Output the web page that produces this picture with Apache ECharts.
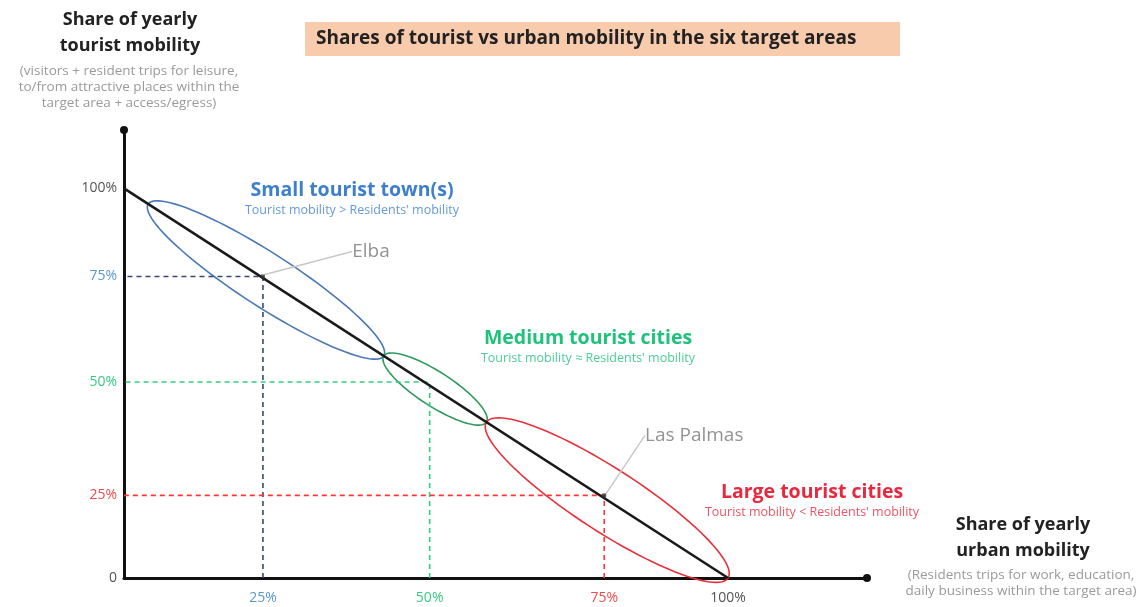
<!DOCTYPE html>
<html>
<head>
<meta charset="utf-8">
<script src="https://cdn.jsdelivr.net/npm/echarts@6/dist/echarts.min.js"></script>
<style>
html,body{margin:0;padding:0;background:#fff;}
#chart{width:1148px;height:607px;}
</style>
</head>
<body>
<div id="chart"></div>
<script>
// ---- data ----
const groupNames = ['Small tourist town(s)', 'Medium tourist cities', 'Large tourist cities'];
const groupSubtitles = ["Tourist mobility > Residents' mobility", "Tourist mobility \u2248 Residents' mobility", "Tourist mobility < Residents' mobility"];
// ellipse ends along the diagonal (urban share %, tourist share %)
const ellipseStartX = [4, 43, 60];
const ellipseStartY = [96, 57, 40];
const ellipseEndX = [43, 60, 100];
const ellipseEndY = [57, 40, 0];
// reference shares (schematic positions)
const refUrban = [23, 50.6, 79.5];
const refTourist = [77.4, 50.3, 21.2];
const refTickLabels = ['25%', '50%', '75%'];
const diagonalX = [0, 100];
const diagonalY = [100, 0];
const examples = ['Elba', 'Las Palmas'];
const exampleGroup = [0, 2];
const xTickValues = [refUrban[0], refUrban[1], refUrban[2], 100];
const xTickLabels = ['25%', '50%', '75%', '100%'];
const yTickValues = [0, refTourist[2], refTourist[1], refTourist[0], 100];
const yTickLabels = ['0', '25%', '50%', '75%', '100%'];

// ---- styles ----
const ellipseColors = ['#4a78b8', '#2e9a5e', '#e8303a'];
const ellipseRatio = [0.19, 0.28, 0.22];
const dashColors = ['#34486e', '#2fd07e', '#ff3434'];
const titleColors = ['#3d7fcc', '#1fc27c', '#e8283c'];
const xTickColors = ['#5b97d0', '#38c985', '#f04b4b', '#555'];
const yTickColors = ['#555', '#f04b4b', '#38c985', '#5b97d0', '#555'];
const FONT = '"Open Sans", Lato, sans-serif';

const chart = echarts.init(document.getElementById('chart'), null, {renderer: 'canvas'});

function richFrom(colors) {
  const r = {};
  colors.forEach((c, i) => { r['c' + i] = {color: c, fontSize: 14, fontFamily: FONT}; });
  return r;
}
function labelFmt(values, labels) {
  return function (v) {
    let best = 0, bd = Infinity;
    values.forEach((t, i) => { const d = Math.abs(t - v); if (d < bd) { bd = d; best = i; } });
    return '{c' + best + '|' + labels[best] + '}';
  };
}

const ellipseData = groupNames.map((n, i) => [ellipseStartX[i], ellipseStartY[i], ellipseEndX[i], ellipseEndY[i]]);

const series = [];
series.push({
  type: 'custom',
  name: 'groups',
  coordinateSystem: 'cartesian2d',
  encode: {x: [0, 2], y: [1, 3]},
  clip: false,
  silent: true,
  z: 2,
  data: ellipseData,
  renderItem: function (params, api) {
    const i = params.dataIndex;
    const p1 = api.coord([api.value(0), api.value(1)]);
    const p2 = api.coord([api.value(2), api.value(3)]);
    const cx = (p1[0] + p2[0]) / 2, cy = (p1[1] + p2[1]) / 2;
    const dx = p2[0] - p1[0], dy = p2[1] - p1[1];
    const len = Math.sqrt(dx * dx + dy * dy);
    const a = len / 2, b = a * ellipseRatio[i];
    const ux = dx / len, uy = dy / len, vx = -uy, vy = ux;
    const pts = [];
    for (let k = 0; k < 96; k++) {
      const t = k / 96 * Math.PI * 2;
      pts.push([cx + ux * a * Math.cos(t) + vx * b * Math.sin(t), cy + uy * a * Math.cos(t) + vy * b * Math.sin(t)]);
    }
    return {type: 'polygon', shape: {points: pts}, style: {fill: 'none', stroke: ellipseColors[i], lineWidth: 1.6}};
  }
});

refUrban.forEach((x, i) => {
  series.push({
    type: 'line',
    name: 'ref' + i,
    data: [[x, 0], [x, refTourist[i]], [0, refTourist[i]]],
    symbol: 'none',
    silent: true,
    z: 3,
    lineStyle: {color: dashColors[i], width: 1.6, type: [5, 4]}
  });
});

series.push({
  type: 'line',
  name: 'diagonal',
  data: diagonalX.map((x, i) => [x, diagonalY[i]]),
  symbol: 'none',
  silent: true,
  z: 4,
  lineStyle: {color: '#1a1a1a', width: 2.6}
});

const exOffsets = [[108, -25], [90, -60]];
series.push({
  type: 'scatter',
  name: 'examples',
  z: 5,
  symbol: 'rect',
  symbolSize: 4,
  itemStyle: {color: '#333'},
  data: examples.map((n, i) => ({name: n, value: [refUrban[exampleGroup[i]], refTourist[exampleGroup[i]]]})),
  label: {show: true, position: 'inside', formatter: '{b}', color: '#777', fontSize: 19, fontFamily: FONT},
  labelLayout: function (p) { return {dx: exOffsets[p.dataIndex][0], dy: exOffsets[p.dataIndex][1]}; },
  labelLine: {show: true, lineStyle: {color: '#c8c8c8', width: 1.5}}
});

// ---- texts ----
const graphics = [];
graphics.push({type: 'rect', left: 305, top: 22, shape: {width: 595, height: 34}, style: {fill: '#F8CBAD'}, silent: true});
graphics.push({type: 'text', x: 316, y: 39, style: {text: 'Shares of tourist vs urban mobility in the six target areas', fill: '#222', font: 'bold 19px ' + FONT, verticalAlign: 'middle'}});

graphics.push({type: 'text', x: 130, y: 20, style: {text: 'Share of yearly', fill: '#222', font: 'bold 18px ' + FONT, align: 'center', verticalAlign: 'middle'}});
graphics.push({type: 'text', x: 130, y: 46, style: {text: 'tourist mobility', fill: '#222', font: 'bold 18px ' + FONT, align: 'center', verticalAlign: 'middle'}});
['(visitors + resident trips for leisure,', 'to/from attractive places within the', 'target area + access/egress)'].forEach((t, i) => {
  graphics.push({type: 'text', x: 129, y: 71 + i * 16, style: {text: t, fill: '#9a9a9a', font: '13.5px ' + FONT, align: 'center', verticalAlign: 'middle'}});
});

graphics.push({type: 'text', x: 1023, y: 525, style: {text: 'Share of yearly', fill: '#222', font: 'bold 18px ' + FONT, align: 'center', verticalAlign: 'middle'}});
graphics.push({type: 'text', x: 1023, y: 551, style: {text: 'urban mobility', fill: '#222', font: 'bold 18px ' + FONT, align: 'center', verticalAlign: 'middle'}});
['(Residents trips for work, education,', 'daily business within the target area)'].forEach((t, i) => {
  graphics.push({type: 'text', x: 1021, y: 575 + i * 16, style: {text: t, fill: '#9a9a9a', font: '13.5px ' + FONT, align: 'center', verticalAlign: 'middle'}});
});

const groupLabelPos = [[352, 190], [588, 338], [812, 492]];
groupNames.forEach((n, i) => {
  graphics.push({type: 'text', x: groupLabelPos[i][0], y: groupLabelPos[i][1], style: {text: n, fill: titleColors[i], font: 'bold 19.5px ' + FONT, align: 'center', verticalAlign: 'middle'}});
  graphics.push({type: 'text', x: groupLabelPos[i][0], y: groupLabelPos[i][1] + 20, style: {text: groupSubtitles[i], fill: titleColors[i], font: '12.5px ' + FONT, align: 'center', verticalAlign: 'middle', opacity: 0.8}});
});

const option = {
  animation: false,
  backgroundColor: '#fff',
  grid: {left: 124, top: 130, width: 743, height: 448},
  xAxis: {
    type: 'value', min: 0, max: 123,
    axisLine: {show: true, lineStyle: {color: '#111', width: 3}, symbol: ['none', 'circle'], symbolSize: [8, 8]},
    axisTick: {show: false},
    splitLine: {show: false},
    axisLabel: {customValues: xTickValues, formatter: labelFmt(xTickValues, xTickLabels), rich: richFrom(xTickColors), margin: 13}
  },
  yAxis: {
    type: 'value', min: 0, max: 115,
    axisLine: {show: true, lineStyle: {color: '#111', width: 3}, symbol: ['none', 'circle'], symbolSize: [8, 8]},
    axisTick: {show: false},
    splitLine: {show: false},
    axisLabel: {customValues: yTickValues, formatter: labelFmt(yTickValues, yTickLabels), rich: richFrom(yTickColors), margin: 7}
  },
  graphic: graphics,
  series: series
};
chart.setOption(option);
</script>
</body>
</html>
